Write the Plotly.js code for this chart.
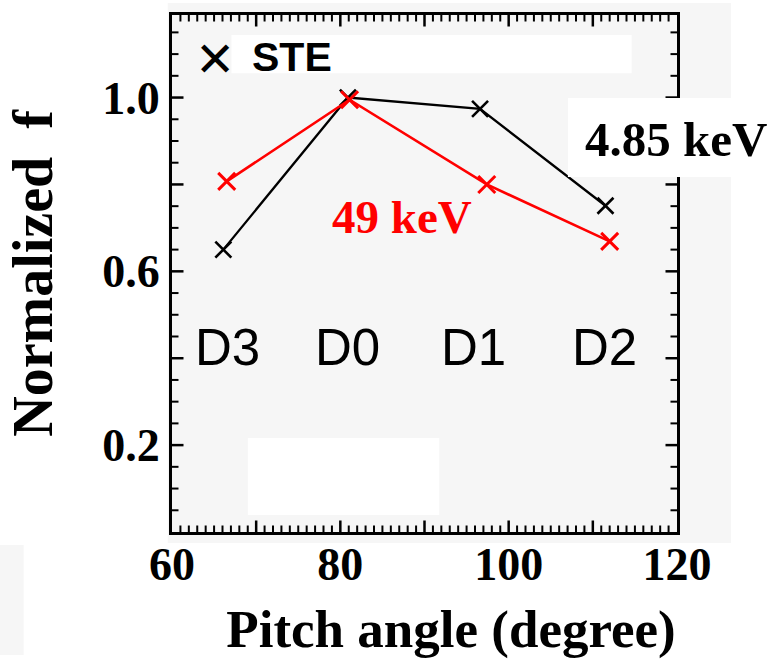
<!DOCTYPE html>
<html><head><meta charset="utf-8">
<script src="https://cdn.plot.ly/plotly-3.0.1.min.js"></script>
<style>html,body{margin:0;padding:0;background:#fff}</style>
</head><body><div id="chart" style="width:769px;height:659px"></div>
<script>
// Pitch angle (degree) and normalized f for the two energies
const anglesBlack = [66.1, 80.9, 96.6, 111.5];   // 4.85 keV
const valuesBlack = [0.650, 1.000, 0.974, 0.751];
const anglesRed = [66.5, 81.1, 97.4, 112.0];     // 49 keV
const valuesRed = [0.807, 0.995, 0.800, 0.669];
const detectorLabels = ['D3', 'D0', 'D1', 'D2'];
const detectorLabelX = [66.6, 80.9, 95.8, 111.4];
const detectorLabelY = 0.425;
const xHiddenTickLabels = {'70': ' ', '90': ' ', '110': ' '};
const yHiddenTickLabels = {'0.0': ' ', '0.4': ' ', '0.8': ' '};
const X_RANGE = [60, 120];
const Y_RANGE = [0, 1.19];

const GRAY = '#f6f6f6';
const PLOT_W = 769 - 172 - 92, PLOT_H = 659 - 15 - 127;
const serifBold = {family: 'Liberation Serif, Times New Roman, serif', weight: 'bold', color: 'black'};

const traces = [
  {x: anglesBlack, y: valuesBlack, type: 'scatter', mode: 'lines+markers', name: '4.85 keV',
   line: {color: 'black', width: 2.3},
   marker: {symbol: 'x-thin', size: 16, line: {color: 'black', width: 2.6}}},
  {x: anglesRed, y: valuesRed, type: 'scatter', mode: 'lines+markers', name: '49 keV',
   line: {color: '#ff0000', width: 2.6},
   marker: {symbol: 'x-thin', size: 17, line: {color: '#ff0000', width: 3}}}
];

const annotations = detectorLabels.map((t, i) => ({
  x: detectorLabelX[i], y: detectorLabelY, xref: 'x', yref: 'y', text: t, showarrow: false,
  font: {family: 'Liberation Sans, Arial, sans-serif', size: 51, color: 'black'}
}));
annotations.push(
  {x: 87.3, y: 0.724, xref: 'x', yref: 'y', text: '49 keV', showarrow: false,
   font: Object.assign({}, serifBold, {size: 47, color: '#ff0000'})},
  {x: 0.998, y: 0.760, xref: 'paper', yref: 'paper', xanchor: 'center', yanchor: 'middle',
   text: '4.85 keV', showarrow: false, font: Object.assign({}, serifBold, {size: 49})},
  {x: 65.1, y: 1.088, xref: 'x', yref: 'y', text: '\u2715', showarrow: false,
   font: {family: 'DejaVu Sans, sans-serif', size: 48, color: 'black'}},
  {x: 74.2, y: 1.094, xref: 'x', yref: 'y', text: 'STE', showarrow: false,
   font: {family: 'Liberation Sans, Arial, sans-serif', size: 41, weight: 'bold', color: 'black'}}
);

const shapes = [
  {type: 'rect', xref: 'paper', yref: 'paper', x0: -0.0085, x1: 0, y0: -0.0213, y1: 1.0232,
   fillcolor: GRAY, line: {width: 0}, layer: 'below'},
  {type: 'rect', xref: 'paper', yref: 'paper', x0: 1, x1: 1.107, y0: -0.0213, y1: 1.0232,
   fillcolor: GRAY, line: {width: 0}, layer: 'below'},
  {type: 'rect', xref: 'paper', yref: 'paper', x0: 0, x1: 1, y0: 1, y1: 1.0232,
   fillcolor: GRAY, line: {width: 0}, layer: 'below'},
  {type: 'rect', xref: 'paper', yref: 'paper', x0: 0, x1: 1, y0: -0.0213, y1: 0,
   fillcolor: GRAY, line: {width: 0}, layer: 'below'},
  {type: 'rect', xref: 'paper', yref: 'paper', x0: -0.3414, x1: -0.2938, y0: -0.2379, y1: -0.0251,
   fillcolor: GRAY, line: {width: 0}, layer: 'below'}
];

// inward tick marks on all four sides (major + minor), placed through the axis scales
for (let v = X_RANGE[0] + 1; v < X_RANGE[1]; v++) {
  const major = v % 10 === 0;
  const len = (major ? 11.5 : 6.5) / PLOT_H;
  const w = major ? 2.5 : 2;
  shapes.push({type: 'line', xref: 'x', yref: 'paper', x0: v, x1: v, y0: 0, y1: len, line: {color: 'black', width: w}, layer: 'below'});
  shapes.push({type: 'line', xref: 'x', yref: 'paper', x0: v, x1: v, y0: 1, y1: 1 - len, line: {color: 'black', width: w}, layer: 'below'});
}
for (let i = 1; i * 0.05 < Y_RANGE[1]; i++) {
  const v = i * 0.05;
  const major = i % 4 === 0;
  const len = (major ? 11.5 : 6.5) / PLOT_W;
  const w = major ? 2.5 : 2;
  shapes.push({type: 'line', xref: 'paper', yref: 'y', y0: v, y1: v, x0: 0, x1: len, line: {color: 'black', width: w}, layer: 'below'});
  shapes.push({type: 'line', xref: 'paper', yref: 'y', y0: v, y1: v, x0: 1, x1: 1 - len, line: {color: 'black', width: w}, layer: 'below'});
}

// white patches over the frame
shapes.push(
  {type: 'rect', xref: 'paper', yref: 'paper', x0: 0.1177, x1: 0.9103, y0: 0.8872, y1: 0.9613,
   fillcolor: 'white', line: {width: 0}, layer: 'above'},
  {type: 'rect', xref: 'paper', yref: 'paper', x0: 0.1502, x1: 0.5292, y0: 0.0329, y1: 0.1818,
   fillcolor: 'white', line: {width: 0}, layer: 'above'},
  {type: 'rect', xref: 'paper', yref: 'paper', x0: 0.784, x1: 1.109, y0: 0.6867, y1: 0.8395,
   fillcolor: 'white', line: {width: 0}, layer: 'above'}
);

const layout = {
  width: 769, height: 659,
  margin: {l: 172, r: 92, t: 15, b: 127},
  paper_bgcolor: 'white', plot_bgcolor: GRAY,
  showlegend: false,
  xaxis: {
    range: X_RANGE, dtick: 10, labelalias: xHiddenTickLabels,
    ticks: 'inside', ticklen: 10, tickwidth: 2.5, tickcolor: 'rgba(0,0,0,0)',
    showline: true, mirror: true, linecolor: 'black', linewidth: 3,
    showgrid: false, zeroline: false, ticklabelstandoff: -10,
    tickfont: Object.assign({}, serifBold, {size: 46}),
    title: {text: '\u200b\u2003Pitch angle (degree)', font: Object.assign({}, serifBold, {size: 53}), standoff: 40}
  },
  yaxis: {
    range: Y_RANGE, dtick: 0.2, tickformat: '.1f', labelalias: yHiddenTickLabels,
    ticks: 'inside', ticklen: 10, tickwidth: 2.5, tickcolor: 'rgba(0,0,0,0)',
    showline: true, mirror: true, linecolor: 'black', linewidth: 3,
    showgrid: false, zeroline: false,
    tickfont: Object.assign({}, serifBold, {size: 46}),
    title: {text: 'Normalized\u00a0\u00a0f', font: Object.assign({}, serifBold, {size: 56}), standoff: 32}
  },
  annotations: annotations,
  shapes: shapes
};

Plotly.newPlot('chart', traces, layout, {displayModeBar: false, staticPlot: true});
</script></body></html>
